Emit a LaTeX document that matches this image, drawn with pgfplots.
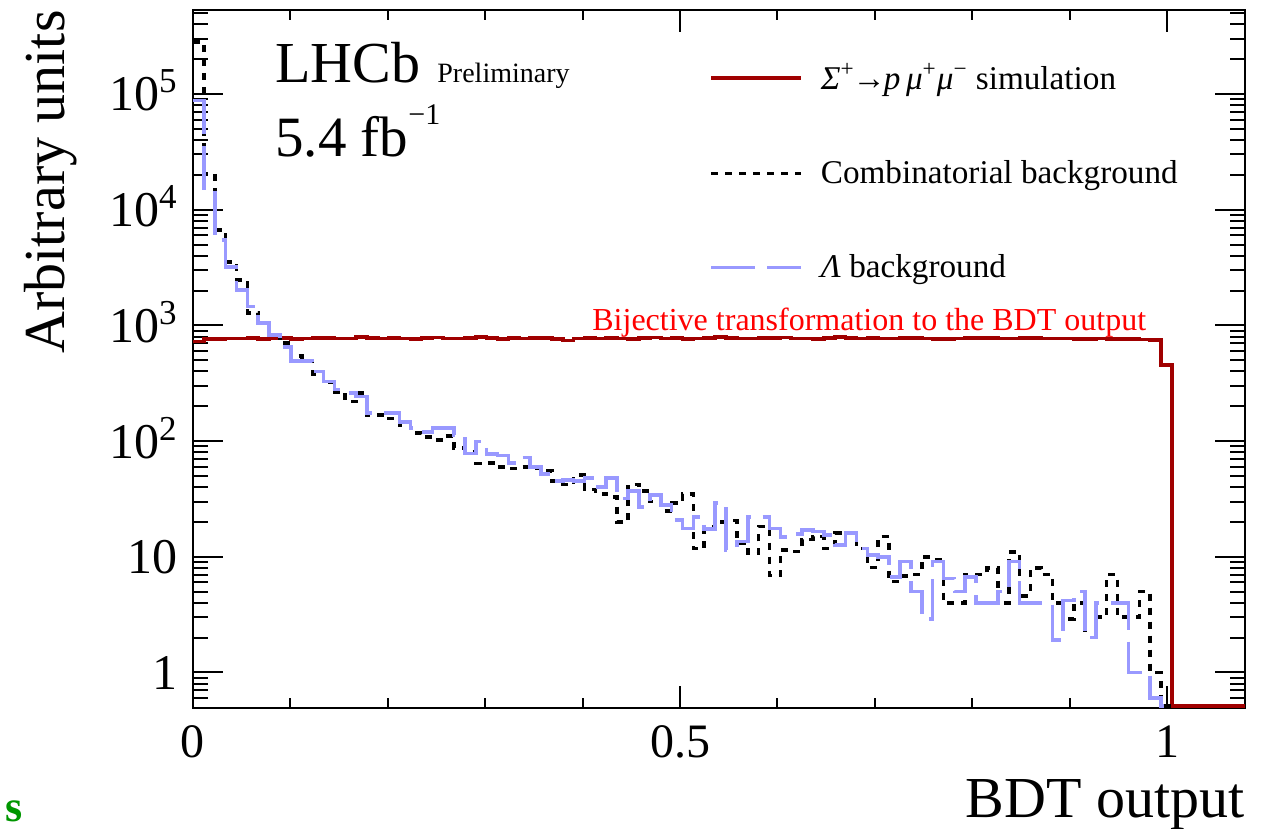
\documentclass[border=0pt]{standalone}
\usepackage{fontspec}
\setmainfont{Liberation Serif}
\usepackage{pgfplots}
\pgfplotsset{compat=1.18}
\usepackage{pgfplotstable}

\definecolor{sigred}{RGB}{160,0,0}
\definecolor{lamblue}{RGB}{153,153,255}
\definecolor{txtred}{RGB}{255,0,0}
\definecolor{sgreen}{RGB}{0,150,0}

\pgfplotstableread{
x sig comb lam
0.0000 725 283000 87500
0.0112 760 20600 14800
0.0223 765 6680 5470
0.0335 770 3550 3210
0.0447 768 2470 2020
0.0558 775 1280 1450
0.0670 760 1040 1050
0.0782 772 826 826
0.0893 778 700 654
0.1005 765 544 492
0.1117 770 490 492
0.1228 780 380 398
0.1340 775 320 326
0.1452 768 267 280
0.1563 772 219 260
0.1675 790 259 242
0.1787 775 168 174
0.1898 770 168 174
0.2010 780 157 174
0.2122 772 138 147
0.2233 760 118 129
0.2345 775 109 120
0.2457 785 102 129
0.2568 770 110 129
0.2680 768 87 113
0.2792 776 81 78
0.2903 790 64 99
0.3015 780 65 77
0.3127 760 60 75
0.3238 775 58 65
0.3350 770 60 72
0.3462 782 58 60
0.3573 778 55 52
0.3685 765 45 45
0.3797 742 42 46
0.3908 770 51 45
0.4020 775 38 48
0.4132 768 35 40
0.4243 780 33 48
0.4355 772 20 32
0.4467 765 42 37
0.4578 778 37 27
0.4690 785 30 34
0.4802 770 25 28
0.4913 775 29 20.8
0.5025 760 35 17.6
0.5137 772 11.8 22
0.5248 780 18 17.3
0.5360 790 20 29
0.5472 775 20.5 11.5
0.5583 770 13.1 13.5
0.5695 768 10.7 22
0.5807 776 18.3 22
0.5918 780 6.9 17.6
0.6030 785 11.5 14.9
0.6142 772 11.1 15.8
0.6253 770 14.1 17
0.6365 765 15 16.5
0.6477 778 11.8 15.4
0.6588 790 16 12.6
0.6700 780 16 16
0.6812 770 11.8 11.8
0.6923 775 8.1 10.4
0.7035 768 15 10
0.7147 772 6.1 6.7
0.7258 780 6.8 9.1
0.7370 776 7.0 5.0
0.7482 770 10 2.9
0.7593 765 9.5 9.1
0.7705 760 4.0 6.5
0.7817 772 4.0 5.0
0.7928 778 7.0 6.7
0.8040 782 7.0 4.0
0.8152 775 8.0 4.0
0.8263 770 4.0 5.0
0.8375 768 11 9.1
0.8487 780 4.6 4.0
0.8598 775 8.0 4.0
0.8710 770 7.0 4.0
0.8822 772 4.0 1.9
0.8933 768 2.9 4.2
0.9045 765 4.0 5.0
0.9157 760 2.3 2.0
0.9268 770 3.0 4.0
0.9380 765 7.0 4.0
0.9492 762 3.0 4.0
0.9603 760 3.0 1.0
0.9715 755 5.0 1.0
0.9827 750 1.0 0.6
0.9938 455 0.51 0.51
1.0050 0.51 0.51 0.51
1.0800 0.51 nan nan
}\histdata

\begin{document}
\begin{tikzpicture}
\useasboundingbox (-96.5pt,-60.5pt) rectangle (539pt,354pt);
\begin{axis}[
  at={(0pt,0pt)}, anchor=south west,
  scale only axis, width=526pt, height=349pt,
  xmin=0, xmax=1.08, ymode=log, ymin=0.493, ymax=5.32e5,
  axis line style={line width=1.1pt},
  tick style={black, line width=1pt},
  xtick={0,0.5,1}, xticklabels={0,0.5,1},
  minor xtick={0.1,0.2,0.3,0.4,0.6,0.7,0.8,0.9},
  ytick={1,10,100,1000,10000,100000},
  yticklabels={1,10,10\textsuperscript{2},10\textsuperscript{3},10\textsuperscript{4},10\textsuperscript{5}},
  minor ytick={0.6,0.7,0.8,0.9,2,3,4,5,6,7,8,9,20,30,40,50,60,70,80,90,200,300,400,500,600,700,800,900,2000,3000,4000,5000,6000,7000,8000,9000,20000,30000,40000,50000,60000,70000,80000,90000,200000,300000,400000,500000},
  xtick style={/pgfplots/major tick length=11pt,/pgfplots/minor tick length=5pt},
  ytick style={/pgfplots/major tick length=15pt,/pgfplots/minor tick length=7.5pt},
  /pgf/number format/assume math mode=true,
  xticklabel style={font=\fontsize{24}{24}\selectfont, anchor=base, yshift=-25pt, inner sep=0pt},
  yticklabel style={font=\fontsize{25}{25}\selectfont, anchor=base east, xshift=-7.5pt, yshift=-8.5pt, inner sep=0pt},
  legend cell align=left,
  legend style={at={(0.4847,0.935)}, anchor=north west, draw=none, fill=none,
    font=\fontsize{16.6}{20}\selectfont, row sep=30pt},
  legend image code/.code={\draw[#1] (0pt,0pt) -- (45pt,0pt); \path (52pt,0pt);},
]
\addplot[const plot, sigred, line width=1.8pt] table[x=x, y=sig] {\histdata};
\addlegendentry{\textit{Σ}\textsuperscript{+}\kern-1pt→\kern-1pt\textit{p}\,\textit{μ}\textsuperscript{+}\textit{μ}\textsuperscript{−} simulation}
\addplot[const plot, black, line width=1.8pt, dash pattern=on 3.5pt off 3.5pt] table[x=x, y=comb] {\histdata};
\addlegendentry{Combinatorial background}
\addplot[const plot, lamblue, line width=1.8pt, dash pattern=on 22pt off 6pt] table[x=x, y=lam] {\histdata};
\addlegendentry{\textit{Λ} background}
\end{axis}
\node[anchor=base west, font=\fontsize{29}{29}\selectfont, inner sep=0pt] at (41pt,312.5pt) {LHCb};
\node[anchor=base west, font=\fontsize{14}{14}\selectfont, inner sep=0pt] at (122pt,312.5pt) {Preliminary};
\node[anchor=base west, font=\fontsize{28.5}{29}\selectfont, inner sep=0pt] at (41pt,275.5pt) {5.4 fb\raisebox{16pt}{\fontsize{15}{15}\selectfont −1}};
\node[anchor=base west, font=\fontsize{16}{16}\selectfont, text=txtred, inner sep=0pt] at (199.5pt,188.5pt) {Bijective transformation to the BDT output};
\node[anchor=base east, rotate=90, font=\fontsize{29}{29}\selectfont, inner sep=0pt] at (-64pt,349pt) {Arbitrary units};
\node[anchor=base east, font=\fontsize{29}{29}\selectfont, inner sep=0pt] at (526pt,-55pt) {BDT output};
\node[anchor=base west, font=\fontsize{22}{22}\selectfont\bfseries, text=sgreen, inner sep=0pt] at (-94pt,-57pt) {s};
\end{tikzpicture}
\end{document}
